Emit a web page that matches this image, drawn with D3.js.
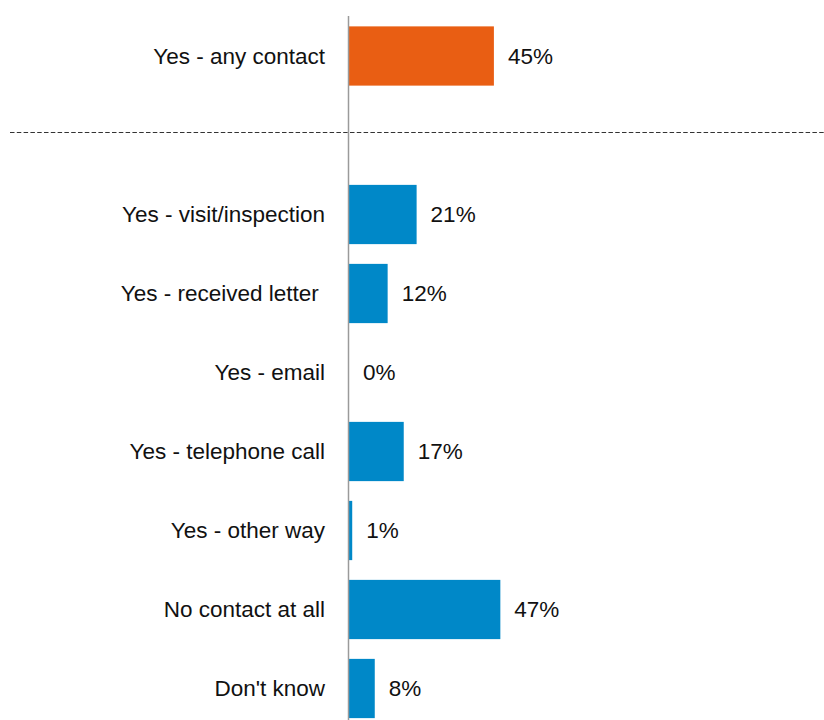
<!DOCTYPE html>
<html>
<head>
<meta charset="utf-8">
<script src="https://cdn.jsdelivr.net/npm/d3@7"></script>
<style>
  html, body { margin: 0; padding: 0; background: #fff; }
  svg text { font-family: Arial, "Liberation Sans", sans-serif; white-space: pre; }
</style>
</head>
<body>
<svg id="chart" width="824" height="720"></svg>
<script>
// Summary row
const summaryCategories = ["Yes - any contact"];
const summaryValues = [45];

// Detail rows
const detailCategories = [
  "Yes - visit/inspection",
  "Yes - received letter ",
  "Yes - email",
  "Yes - telephone call",
  "Yes - other way",
  "No contact at all",
  "Don't know"
];
const detailValues = [21, 12, 0, 17, 1, 47, 8];

const orange = "#E95E13";
const blue = "#0088C8";

const svg = d3.select("#chart");
const W = 824, H = 720;
const axisX = 348.5;
const fontSize = 22.5;

const x = d3.scaleLinear().domain([0, 100]).range([349, 671]);

const ySummary = d3.scaleBand().domain(summaryCategories).range([16.5, 95.5])
  .paddingInner(0.25).paddingOuter(0.125);
const yDetail = d3.scaleBand().domain(detailCategories).range([175, 728])
  .paddingInner(0.25).paddingOuter(0.125);

function drawGroup(cats, vals, y, color) {
  const rows = cats.map((c, i) => ({ c, v: vals[i] }));
  const g = svg.append("g");
  g.selectAll("rect").data(rows).join("rect")
    .attr("x", x(0))
    .attr("y", d => y(d.c))
    .attr("width", d => x(d.v) - x(0))
    .attr("height", y.bandwidth())
    .attr("fill", color);
  g.selectAll("text.cat").data(rows).join("text")
    .attr("class", "cat")
    .attr("x", 325)
    .attr("y", d => y(d.c) + y.bandwidth() / 2)
    .attr("text-anchor", "end")
    .attr("dominant-baseline", "central")
    .attr("font-size", fontSize)
    .attr("fill", "#111")
    .text(d => d.c);
  g.selectAll("text.val").data(rows).join("text")
    .attr("class", "val")
    .attr("x", d => x(d.v) + 14)
    .attr("y", d => y(d.c) + y.bandwidth() / 2)
    .attr("dominant-baseline", "central")
    .attr("font-size", fontSize)
    .attr("fill", "#111")
    .text(d => d.v + "%");
}

drawGroup(summaryCategories, summaryValues, ySummary, orange);
drawGroup(detailCategories, detailValues, yDetail, blue);

// Separator between summary and detail rows
svg.append("line")
  .attr("x1", 10).attr("x2", W)
  .attr("y1", 132.5).attr("y2", 132.5)
  .attr("stroke", "#333")
  .attr("stroke-width", 1.2)
  .attr("stroke-dasharray", "4.5,2.3");

// Category axis baseline
svg.append("line")
  .attr("x1", axisX).attr("x2", axisX)
  .attr("y1", 16).attr("y2", H)
  .attr("stroke", "#9a9a9a")
  .attr("stroke-width", 1.5);
</script>
</body>
</html>
